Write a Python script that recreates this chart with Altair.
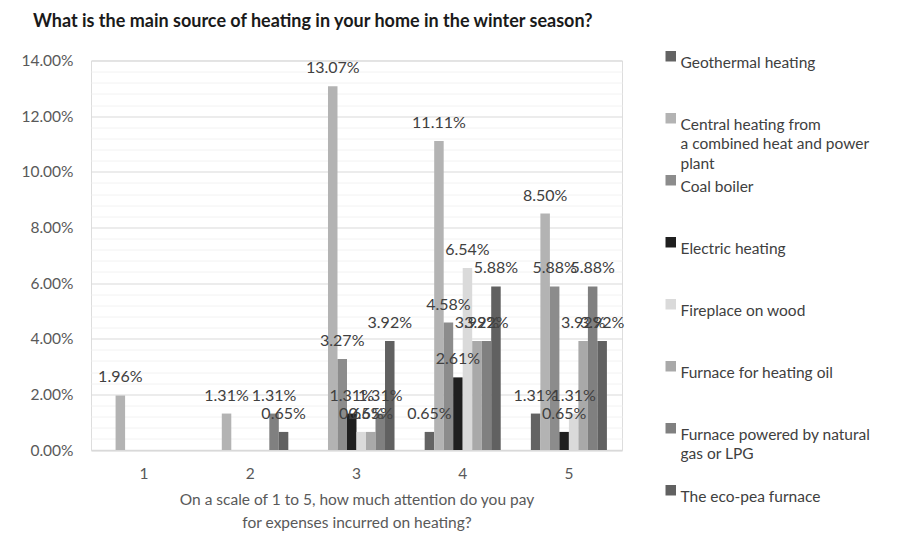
import altair as alt
import pandas as pd

ratings = ["1", "2", "3", "4", "5"]
series = [
    "\u00a0Geothermal heating",
    "Central heating from\na combined heat and power\nplant",
    "Coal boiler",
    "Electric heating",
    "Fireplace on wood",
    "Furnace for heating oil",
    "Furnace powered by natural\ngas or LPG",
    "The eco-pea furnace",
]
# percent of respondents per rating (1..5)
geothermal = [0, 0, 0, 0.65, 1.31]
central = [1.96, 1.31, 13.07, 11.11, 8.50]
coal = [0, 0, 3.27, 4.58, 5.88]
electric = [0, 0, 1.31, 2.61, 0.65]
fireplace = [0, 0, 0.65, 6.54, 1.31]
oil = [0, 0, 0.65, 3.92, 3.92]
gas = [0, 1.31, 1.31, 3.92, 5.88]
ecopea = [0, 0.65, 3.92, 5.88, 3.92]
colors = ["#636363", "#b3b3b3", "#8c8c8c", "#1f1f1f", "#dadada", "#a9a9a9", "#808080", "#616161"]

title = "What is the main source of heating in your home in the winter season?"
x_title = ["On a scale of 1 to 5, how much attention do you pay", "for expenses incurred on heating?"]

all_values = [geothermal, central, coal, electric, fireplace, oil, gas, ecopea]
rows = []
for s, vals in zip(series, all_values):
    for r, v in zip(ratings, vals):
        rows.append({"rating": r, "series": s, "pct": v})
df = pd.DataFrame(rows)

FONT = "Lato"
y_ticks = [round(k * 0.004, 3) for k in range(36)]

x_enc = alt.X(
    "rating:N",
    sort=ratings,
    scale=alt.Scale(paddingInner=0.284, paddingOuter=0.142),
    axis=alt.Axis(
        labelAngle=0, ticks=False, domainColor="#d9d9d9", domainWidth=1.5,
        labelPadding=16, labelFontSize=15.5, labelColor="#595959", labelFont=FONT,
        titleFontSize=15.5, titleColor="#595959", titleFontWeight="normal", titleFont=FONT,
        titlePadding=11, titleLineHeight=23, grid=False,
    ),
    title=x_title,
)
xo_enc = alt.XOffset("series:N", sort=series, scale=alt.Scale(domain=series, paddingInner=0, paddingOuter=0))
y_enc = alt.Y(
    "share:Q",
    scale=alt.Scale(domain=[0, 0.14], nice=False),
    axis=alt.Axis(
        values=y_ticks, ticks=False, domain=False, labelPadding=18,
        labelFontSize=15.5, labelColor="#595959", labelFont=FONT,
        labelExpr="round(datum.value*1000) % 20 == 0 ? format(datum.value, '.2%') : ''",
        gridColor={"condition": {"test": "round(datum.value*1000) % 20 == 0", "value": "#d9d9d9"}, "value": "#f2f2f2"},
        gridWidth=1,
    ),
    title=None,
)

base = alt.Chart(df).transform_calculate(share="datum.pct / 100")

bars = base.mark_bar().encode(
    x=x_enc,
    xOffset=xo_enc,
    y=y_enc,
    color=alt.Color(
        "series:N",
        scale=alt.Scale(domain=series, range=colors),
        legend=alt.Legend(
            title=None, orient="none", legendX=572, legendY=-12,
            symbolType="square", symbolSize=110, symbolStrokeWidth=0,
            labelFontSize=15.5, labelColor="#404040", labelFont=FONT, labelLimit=300,
            labelExpr="split(datum.label, '\\n')", gridAlign="all", rowPadding=0,
            labelBaseline="top", labelOffset=2,
        ),
    ),
)

labels = base.transform_filter("datum.pct > 0").mark_text(
    baseline="alphabetic", dy=-13, fontSize=16, font=FONT, color="#404040"
).encode(
    x=x_enc,
    xOffset=xo_enc,
    y=y_enc,
    text=alt.Text("share:Q", format=".2%"),
)

chart = alt.layer(bars, labels).properties(
    width=531,
    height=389.5,
    autosize=alt.AutoSizeParams(type="none"),
    padding={"left": 91, "top": 60.5, "right": 276, "bottom": 98},
    title=alt.Title(title, anchor="start", frame="group", dx=-58, offset=18,
                    fontSize=18, font=FONT, fontWeight="bold", color="#1a1a1a"),
    background="white",
).configure_view(stroke=None).configure(style={"guide-label": {"lineHeight": 19.2}})

chart.save("out.html", embed_options={"renderer": "svg", "actions": False})
